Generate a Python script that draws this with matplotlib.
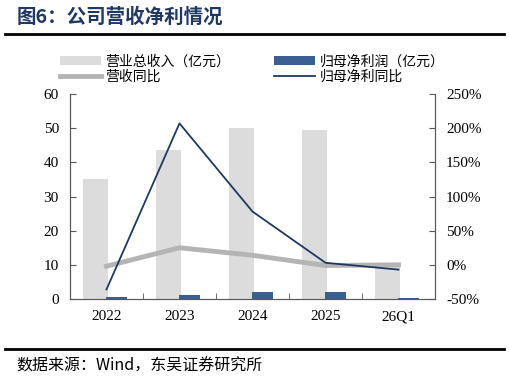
import numpy as np
import matplotlib
matplotlib.use('Agg')
import matplotlib.pyplot as plt
from matplotlib.ticker import FuncFormatter

plt.rcParams['font.family'] = ['Liberation Serif', 'Noto Sans CJK SC', 'DejaVu Sans']

# 数据
categories = ['2022', '2023', '2024', '2025', '26Q1']
revenue = [35.0, 43.6, 50.1, 49.5, 10.2]          # 营业总收入（亿元）
net_profit = [0.5, 1.2, 2.0, 2.1, 0.4]            # 归母净利润（亿元）
revenue_yoy = [-2, 25, 14, -1, 0]                 # 营收同比 %
profit_yoy = [-36, 207, 78, 3, -7]                # 归母净利同比 %

fig = plt.figure(figsize=(5.09, 3.82), dpi=100)
ax = fig.add_axes([0.1375, 0.2173, 0.7171, 0.5366])
ax2 = ax.twinx()

x = np.arange(len(categories))
b1 = ax.bar(x - 0.15, revenue, width=0.33, color='#dcdcdc', label='营业总收入（亿元）', zorder=1)
b2 = ax.bar(x + 0.14, net_profit, width=0.29, color='#3a6093', label='归母净利润（亿元）', zorder=2)
l1, = ax2.plot(x, revenue_yoy, color='#b4b4b4', lw=3.5, label='营收同比', zorder=3)
l2, = ax2.plot(x, profit_yoy, color='#1f3864', lw=1.3, label='归母净利同比', zorder=4)

ax.set_xlim(-0.5, len(categories) - 0.5)
ax.set_ylim(0, 60)
ax.set_yticks(range(0, 61, 10))
ax2.set_ylim(-50, 250)
ax2.set_yticks(range(-50, 251, 50))
ax2.yaxis.set_major_formatter(FuncFormatter(lambda v, p: f'{int(v)}%'))

ax.set_xticks(x)
ax.set_xticklabels(categories)
ax.set_xticks(np.arange(-0.5, len(categories), 1), minor=True)
ax.tick_params(axis='x', which='major', length=0, labelsize=11, pad=8)
ax.tick_params(axis='x', which='minor', direction='in', length=4, color='#595959')
ax.tick_params(axis='y', direction='in', length=4, labelsize=11, color='#595959', pad=8)
ax2.tick_params(axis='y', direction='in', length=4, labelsize=11, color='#595959', pad=8)

for a in (ax, ax2):
    a.spines['top'].set_visible(False)
    for s in ('left', 'right', 'bottom'):
        a.spines[s].set_color('#595959')
        a.spines[s].set_linewidth(0.8)

ax.set_zorder(ax2.get_zorder() - 1)
ax.patch.set_visible(False)

# 图例：两列，第一行为柱，第二行为线
handles = [b1, l1, b2, l2]
labels = [h.get_label() for h in handles]
fig.legend(handles, labels, ncol=2, loc='upper left', bbox_to_anchor=(0.093, 0.89),
           frameon=False, handlelength=2.95, handleheight=0.65,
           columnspacing=3.2, labelspacing=0.12, handletextpad=0.3,
           prop={'family': ['Noto Sans CJK SC'], 'size': 10})

# 标题与来源
fig.text(0.033, 0.955, '图6：公司营收净利情况', fontsize=14, fontweight='bold',
         color='#1f3864', family=['Noto Sans CJK SC'], va='center')
fig.add_artist(plt.Line2D([0.01, 0.99], [0.911, 0.911], color='black', lw=2))
fig.add_artist(plt.Line2D([0.01, 0.99], [0.087, 0.087], color='black', lw=2))
fig.text(0.033, 0.043, '数据来源：Wind，东吴证券研究所', fontsize=11.5,
         family=['Noto Sans CJK SC', 'Liberation Serif'], va='center')

fig.savefig('out.png', dpi=100)
